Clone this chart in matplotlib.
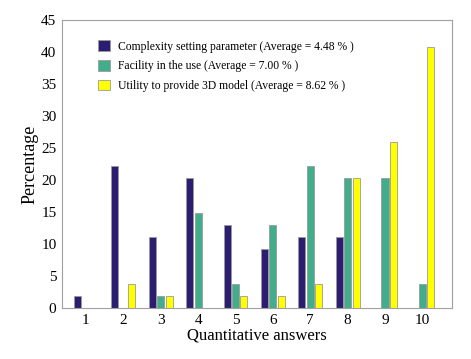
import numpy as np
import matplotlib.pyplot as plt

answers = [1, 2, 3, 4, 5, 6, 7, 8, 9, 10]
complexity = [1.85, 22.22, 11.11, 20.37, 12.96, 9.26, 11.11, 11.11, 0, 0]
facility = [0, 0, 1.85, 14.81, 3.70, 12.96, 22.22, 20.37, 20.37, 3.70]
utility = [0, 3.70, 1.85, 0, 1.85, 1.85, 3.70, 20.37, 25.93, 40.74]
labels = ['Complexity setting parameter (Average = 4.48 % )',
          'Facility in the use (Average = 7.00 % )',
          'Utility to provide 3D model (Average = 8.62 % )']

plt.rcParams['font.family'] = ['Liberation Serif', 'DejaVu Serif']

fig = plt.figure(figsize=(4.71, 3.59), dpi=100)
ax = fig.add_axes([0.1316, 0.142, 0.828, 0.802])

x = np.array(answers)
w = 0.19
off = 0.225
ax.bar(x - off, complexity, w, color='#2a1d72', edgecolor='#9a9a9a', linewidth=0.6, label=labels[0])
ax.bar(x, facility, w, color='#41ad8a', edgecolor='#9a9a9a', linewidth=0.6, label=labels[1])
ax.bar(x + off, utility, w, color='#ffff00', edgecolor='#9a9a9a', linewidth=0.6, label=labels[2])

ax.set_xlim(0.36, 10.79)
ax.set_ylim(0, 45)
ax.set_xticks(answers)
ax.set_yticks(range(0, 46, 5))
ax.tick_params(length=0, labelsize=11, pad=4)
for s in ax.spines.values():
    s.set_color('#a0a0a0')
    s.set_linewidth(0.8)

ax.set_xlabel('Quantitative answers', fontsize=12, labelpad=1)
ax.set_ylabel('Percentage', fontsize=13, labelpad=2)

leg = ax.legend(loc='upper left', bbox_to_anchor=(0.08, 0.946), frameon=False,
                fontsize=8.4, handlelength=1.0, handleheight=1.0,
                handletextpad=0.75, labelspacing=0.65, borderaxespad=0)

fig.savefig('out.png', dpi=100)
